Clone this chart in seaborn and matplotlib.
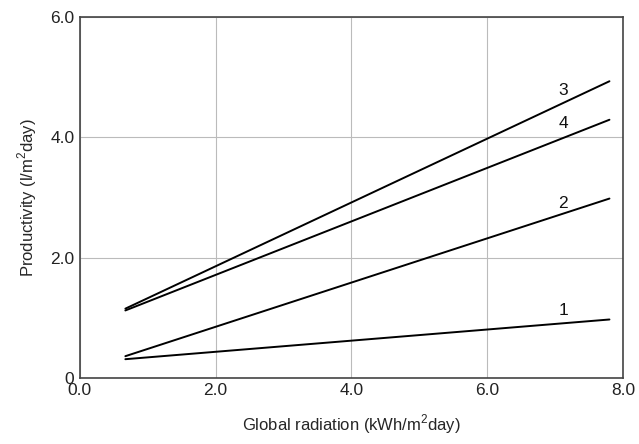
import matplotlib
matplotlib.use("Agg")
import matplotlib.pyplot as plt
import seaborn as sns
import pandas as pd

# --- Data ---
radiation = [0.67, 7.8]
curve_ids = ["1", "2", "3", "4"]
productivity_1 = [0.31, 0.97]
productivity_2 = [0.36, 2.98]
productivity_3 = [1.15, 4.93]
productivity_4 = [1.12, 4.29]
label_x = [7.12, 7.12, 7.12, 7.12]
label_y = [1.12, 2.9, 4.77, 4.22]

x_ticks = [0, 2, 4, 6, 8]
x_tick_labels = ["0.0", "2.0", "4.0", "6.0", "8.0"]
y_ticks = [0, 2, 4, 6]
y_tick_labels = ["0", "2.0", "4.0", "6.0"]

rows = []
for cid, vals in zip(curve_ids, [productivity_1, productivity_2, productivity_3, productivity_4]):
    for x, y in zip(radiation, vals):
        rows.append({"radiation": x, "productivity": y, "curve": cid})
df = pd.DataFrame(rows)

sns.set_style("white")
plt.rcParams["font.family"] = ["Liberation Sans", "DejaVu Sans"]
plt.rcParams["mathtext.fontset"] = "custom"
plt.rcParams["mathtext.rm"] = "Liberation Sans"

fig, ax = plt.subplots(figsize=(6.39, 4.44), dpi=100)
fig.subplots_adjust(left=0.125, right=0.975, top=0.962, bottom=0.149)

sns.lineplot(data=df, x="radiation", y="productivity", hue="curve",
             palette=["black"] * 4, linewidth=1.4, legend=False, ax=ax)

for cid, lx, ly in zip(curve_ids, label_x, label_y):
    ax.text(lx, ly, cid, fontsize=12.5, ha="center", va="center", color="#111111")

ax.set_xlim(0, 8)
ax.set_ylim(0, 6)
ax.set_xticks(x_ticks)
ax.set_xticklabels(x_tick_labels)
ax.set_yticks(y_ticks)
ax.set_yticklabels(y_tick_labels)
ax.tick_params(axis="both", length=0, labelsize=12.5, pad=4, colors="#222222")
ax.grid(True, color="#bbbbbb", linewidth=0.8)
for s in ax.spines.values():
    s.set_color("#444444")
    s.set_linewidth(1.2)

ax.set_xlabel(r"Global radiation (kWh/m$^2$day)", fontsize=12, labelpad=10)
ax.set_ylabel(r"Productivity (l/m$^2$day)", fontsize=12, labelpad=8)

fig.savefig("out.png", dpi=100)
